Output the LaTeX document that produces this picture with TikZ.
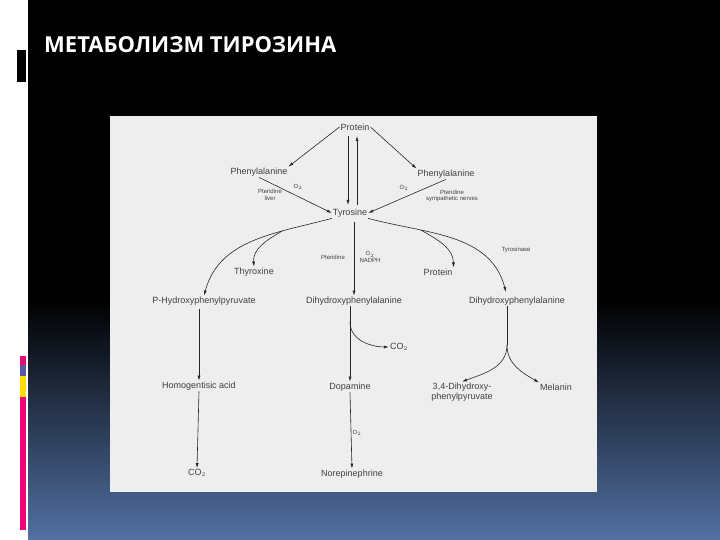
\documentclass[tikz,border=0pt]{standalone}
\usepackage{fontspec}
\setmainfont{Liberation Sans}
\newfontfamily\titlefont{Open Sans}
\usetikzlibrary{arrows.meta}
\definecolor{slideblue}{RGB}{82,112,162}
\definecolor{panel}{RGB}{238,238,238}
\begin{document}
\begin{tikzpicture}[x=1pt,y=-1pt,
  lbl/.style={font=\fontsize{9}{10}\selectfont,text=black!75,inner sep=1pt},
  sm/.style={font=\fontsize{6}{6.5}\selectfont,text=black!75,inner sep=1pt,align=center},
  arr/.style={-{Latex[length=5pt,width=3pt]},line width=0.6pt,black!85}]
\useasboundingbox (0,0) rectangle (720,540);
\fill[black] (0,0) rectangle (720,300);
\shade[top color=black,bottom color=slideblue] (0,300) rectangle (720,540);
\fill[white] (0,0) rectangle (28,540);
\fill[black] (17,50) rectangle (26,82);
\fill[magenta!80!red] (20,356) rectangle (26,365);
\fill[gray!70!blue] (20,365) rectangle (26,376);
\fill[yellow!80!orange] (20,376) rectangle (26,397);
\fill[magenta!80!red] (20,397) rectangle (26,530);
\node[anchor=west,text=white,font=\titlefont\bfseries\fontsize{22}{24}\selectfont,inner sep=0pt] (title) at (44,45) {МЕТАБОЛИЗМ ТИРОЗИНА};
\fill[panel] (110,116) rectangle (597,492);
% nodes
\node[lbl] (prot) at (355,127) {Protein};
\node[lbl] (pheL) at (259,172) {Phenylalanine};
\node[lbl] (pheR) at (446,174) {Phenylalanine};
\node[lbl] (tyr) at (350,213) {Tyrosine};
\node[sm] (ptl) at (270,195) {Pteridine\\liver};
\node[sm] (o2l) at (298,187) {O$_2$};
\node[sm] (o2r) at (404,188) {O$_2$};
\node[sm] (ptr) at (452,196) {Pteridine\\sympathetic nerves};
\node[lbl] (thy) at (254,272) {Thyroxine};
\node[lbl] (protR) at (438,272) {Protein};
\node[sm] (tyrase) at (516,250) {Tyrosinase};
\node[sm] (ptc) at (333,257) {Pteridine};
\node[sm] (o2n) at (370,257) {O$_2$\\NADPH};
\node[lbl] (php) at (204,301) {P-Hydroxyphenylpyruvate};
\node[lbl] (dopa) at (354,301) {Dihydroxyphenylalanine};
\node[lbl] (dopaR) at (517,301) {Dihydroxyphenylalanine};
\node[lbl] (co2m) at (399,347) {CO$_2$};
\node[lbl] (hga) at (199,386) {Homogentisic acid};
\node[lbl] (dopm) at (350,387) {Dopamine};
\node[lbl,align=center] (dhpp) at (462,392) {3,4-Dihydroxy-\\phenylpyruvate};
\node[lbl] (mel) at (556,387) {Melanin};
\node[sm] (o2b) at (357,433) {O$_2$};
\node[lbl] (co2b) at (197,473) {CO$_2$};
\node[lbl] (nor) at (352,474) {Norepinephrine};
\coordinate (dm) at (350,322);
\coordinate (sp) at (507,345);
% arrows
\draw[arr] (prot.west) -- (pheL.north east);
\draw[arr] (prot.east) -- (pheR.north west);
\draw[arr] (348,136) -- (348,205);
\draw[arr] (357,205) -- (357,136);
\draw[arr] (pheL.south) -- (tyr.west);
\draw[arr] (pheR.south) -- (tyr.east);
\draw[arr] (tyr.south west) to[out=195,in=75] coordinate[pos=0.3] (tl) (php.north);
\draw[arr] (tl) to[out=210,in=95] (thy.north);
\draw[arr] (354,222) -- (dopa.north);
\draw[arr] (tyr.south east) to[out=-15,in=105] coordinate[pos=0.3] (tr) (506,292);
\draw[arr] (tr) to[out=-30,in=90] (protR.north east);
\draw[arr] (199,309) -- (hga.north);
\draw[arr] (hga.south) -- (co2b.north);
\draw[arr] (dopa.south -| dopm) -- (dopm.north);
\draw[arr] (dm) to[out=-90,in=180] (co2m.west);
\draw[arr] (dopm.south) -- (nor.north);
\draw[line width=0.6pt,black!85] (dopaR.south -| sp) -- (sp);
\draw[arr] (sp) to[out=-90,in=20] (dhpp.north);
\draw[arr] (sp) to[out=-90,in=150] (mel.north west);
\end{tikzpicture}
\end{document}
